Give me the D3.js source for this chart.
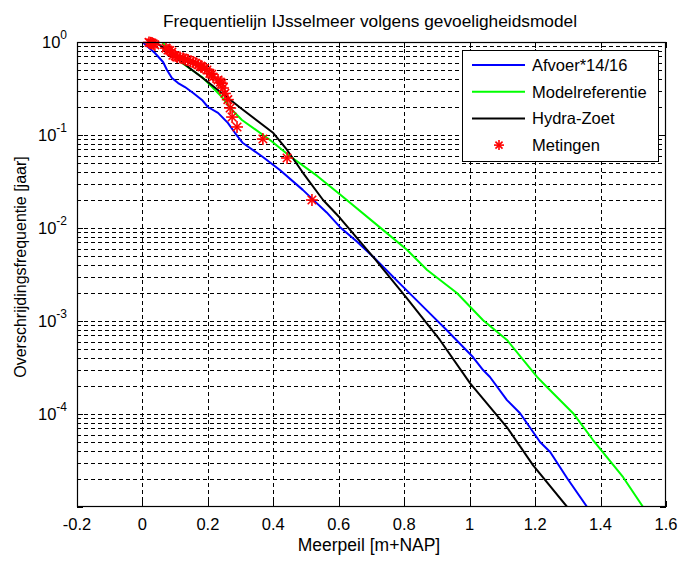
<!DOCTYPE html>
<html>
<head>
<meta charset="utf-8">
<script src="https://cdn.jsdelivr.net/npm/d3@7"></script>
<style>
html,body{margin:0;padding:0;background:#fff;}
svg{display:block;font-family:"Liberation Sans",Arial,sans-serif;}
</style>
</head>
<body>
<svg id="chart" width="692" height="563"></svg>
<script>
// ---- data ----
const title = "Frequentielijn IJsselmeer volgens gevoeligheidsmodel";
const xLabel = "Meerpeil [m+NAP]";
const yLabel = "Overschrijdingsfrequentie [jaar]";
const xTicks = [-0.2, 0, 0.2, 0.4, 0.6, 0.8, 1, 1.2, 1.4, 1.6];
const yDecades = [0, -1, -2, -3, -4, -5];
const seriesNames = ["Afvoer*14/16", "Modelreferentie", "Hydra-Zoet", "Metingen"];
const seriesColors = ["#0000ff", "#00ff00", "#000000", "#ff0000"];

const afvoerX = [0.0, 0.038, 0.063, 0.075, 0.090, 0.109, 0.130, 0.155, 0.182, 0.200, 0.231, 0.261, 0.283, 0.307, 0.368, 0.420, 0.490, 0.518, 0.563, 0.604, 0.656, 0.705, 0.796, 0.879, 0.931, 1.010, 1.041, 1.062, 1.114, 1.154, 1.215, 1.246, 1.298, 1.359];
const afvoerY = [1, 0.762, 0.61, 0.50, 0.41, 0.362, 0.328, 0.283, 0.238, 0.20, 0.173, 0.135, 0.105, 0.082, 0.058, 0.042, 0.0257, 0.0207, 0.0147, 0.0102, 0.0071, 0.0049, 0.00234, 0.0012, 0.00079, 0.00041, 0.000297, 0.00025, 0.000141, 0.000102, 5.0e-5, 3.9e-5, 2.04e-5, 1.0e-5];

const modelX = [0.06, 0.093, 0.121, 0.151, 0.182, 0.213, 0.243, 0.274, 0.304, 0.39, 0.45, 0.534, 0.604, 0.735, 0.809, 0.870, 0.961, 1.041, 1.114, 1.206, 1.236, 1.316, 1.377, 1.469, 1.530];
const modelY = [1, 0.762, 0.594, 0.50, 0.42, 0.328, 0.256, 0.186, 0.145, 0.0883, 0.0595, 0.0363, 0.0229, 0.00955, 0.0058, 0.00353, 0.002, 0.00102, 0.000625, 0.000251, 0.000195, 0.000102, 5.25e-5, 2.09e-5, 1.0e-5];

const hydraX = [0.04, 0.12, 0.2, 0.3, 0.4, 0.442, 0.491, 0.552, 0.604, 0.705, 0.809, 0.909, 1.001, 1.114, 1.194, 1.298];
const hydraY = [1, 0.61, 0.372, 0.195, 0.105, 0.069, 0.039, 0.02, 0.0128, 0.00488, 0.00174, 0.000625, 0.000215, 7.2e-5, 2.8e-5, 1.0e-5];

const metingenX = [0.02, 0.025, 0.029, 0.033, 0.038, 0.072, 0.078, 0.084, 0.09, 0.093, 0.1, 0.106, 0.115, 0.124, 0.13, 0.139, 0.147, 0.155, 0.163, 0.170, 0.178, 0.182, 0.19, 0.197, 0.206, 0.212, 0.216, 0.231, 0.238, 0.243, 0.246, 0.252, 0.261, 0.268, 0.274, 0.289, 0.368, 0.442, 0.518];
const metingenY = [0.99, 0.98, 0.975, 0.955, 0.93, 0.86, 0.82, 0.81, 0.78, 0.72, 0.71, 0.69, 0.68, 0.67, 0.65, 0.64, 0.62, 0.61, 0.59, 0.57, 0.55, 0.54, 0.52, 0.50, 0.46, 0.45, 0.42, 0.39, 0.37, 0.36, 0.32, 0.28, 0.24, 0.195, 0.156, 0.122, 0.0905, 0.0566, 0.02];

// ---- layout ----
const L = 77, R = 666, T = 42, B = 507;
const svg = d3.select("#chart");
const x = d3.scaleLinear().domain([-0.2, 1.6]).range([L, R]);
const y = d3.scaleLog().domain([1e-5, 1]).range([B, T]);

const FS = 16.5;

// grid
const grid = svg.append("g").attr("stroke", "#000").attr("stroke-width", 1)
  .attr("stroke-dasharray", "4,3").attr("shape-rendering", "crispEdges");
xTicks.slice(1, -1).forEach(v => {
  const px = Math.round(x(v)) + 0.5;
  grid.append("line").attr("x1", px).attr("x2", px).attr("y1", T).attr("y2", B);
});
const minorVals = [];
yDecades.slice(0, -1).forEach(d => {
  for (let k = 1; k <= 9; k++) minorVals.push(k * Math.pow(10, d - 1));
});
minorVals.forEach(v => {
  if (v >= 1 || v <= 1e-5) return;
  const py = Math.round(y(v)) + 0.5;
  grid.append("line").attr("x1", L).attr("x2", R).attr("y1", py).attr("y2", py);
});

// clip
svg.append("clipPath").attr("id", "clip").append("rect")
  .attr("x", L).attr("y", T).attr("width", R - L).attr("height", B - T);

const line = d3.line().x(d => x(d[0])).y(d => y(d[1]));
const plot = svg.append("g").attr("clip-path", "url(#clip)");
const curves = [[afvoerX, afvoerY], [modelX, modelY], [hydraX, hydraY]];
curves.forEach((c, i) => {
  plot.append("path").datum(d3.zip(c[0], c[1]))
    .attr("d", line).attr("fill", "none")
    .attr("stroke", seriesColors[i]).attr("stroke-width", 2)
    .attr("stroke-linejoin", "round");
});

function star(g, cx, cy, r) {
  const s = g.append("g").attr("transform", `translate(${cx},${cy})`)
    .attr("stroke", seriesColors[3]).attr("stroke-width", 1.6);
  const d = r * Math.SQRT1_2;
  s.append("line").attr("x1", -r).attr("x2", r).attr("y1", 0).attr("y2", 0);
  s.append("line").attr("x1", 0).attr("x2", 0).attr("y1", -r).attr("y2", r);
  s.append("line").attr("x1", -d).attr("x2", d).attr("y1", -d).attr("y2", d);
  s.append("line").attr("x1", -d).attr("x2", d).attr("y1", d).attr("y2", -d);
}
const starG = svg.append("g");
d3.zip(metingenX, metingenY).forEach(p => star(starG, x(p[0]), y(p[1]), 6));

// axes box
svg.append("rect").attr("x", L + 0.5).attr("y", T + 0.5).attr("width", R - L - 1).attr("height", B - T - 1)
  .attr("fill", "none").attr("stroke", "#000").attr("stroke-width", 1.2);

// tick marks
const tk = svg.append("g").attr("stroke", "#000").attr("stroke-width", 1).attr("shape-rendering", "crispEdges");
xTicks.forEach(v => {
  const px = Math.round(x(v)) + 0.5;
  tk.append("line").attr("x1", px).attr("x2", px).attr("y1", B).attr("y2", B - 6);
  tk.append("line").attr("x1", px).attr("x2", px).attr("y1", T).attr("y2", T + 6);
});
yDecades.forEach(d => {
  const py = Math.round(y(Math.pow(10, d))) + 0.5;
  tk.append("line").attr("x1", L).attr("x2", L + 6).attr("y1", py).attr("y2", py);
  tk.append("line").attr("x1", R).attr("x2", R - 6).attr("y1", py).attr("y2", py);
});

// x tick labels
svg.append("g").selectAll("text").data(xTicks).join("text")
  .attr("x", d => x(d)).attr("y", B + 23).attr("text-anchor", "middle")
  .attr("font-size", FS).attr("fill", "#000")
  .text(d => String(d));

// y tick labels (10^n) except bottom
yDecades.slice(0, -1).forEach(d => {
  const t = svg.append("text").attr("x", 67).attr("y", y(Math.pow(10, d)) + 6)
    .attr("text-anchor", "end").attr("font-size", FS).attr("fill", "#000");
  t.append("tspan").text("10");
  t.append("tspan").attr("dy", -9).attr("font-size", 12).text(String(d));
});

// title & labels
svg.append("text").attr("x", 370).attr("y", 27).attr("text-anchor", "middle")
  .attr("font-size", 17.3).text(title);
svg.append("text").attr("x", 369).attr("y", 551).attr("text-anchor", "middle")
  .attr("font-size", 17.5).text(xLabel);
svg.append("text").attr("transform", "translate(26,267) rotate(-90)").attr("text-anchor", "middle")
  .attr("font-size", 16).text(yLabel);

// legend
const lg = svg.append("g");
lg.append("rect").attr("x", 462.5).attr("y", 50.5).attr("width", 196).attr("height", 111)
  .attr("fill", "#fff").attr("stroke", "#000").attr("stroke-width", 1);
seriesNames.forEach((name, i) => {
  const cy = 65 + i * 26.7;
  if (i < 3) {
    lg.append("line").attr("x1", 472).attr("x2", 525).attr("y1", cy).attr("y2", cy)
      .attr("stroke", seriesColors[i]).attr("stroke-width", 2);
  } else {
    star(lg, 499, cy, 5);
  }
  lg.append("text").attr("x", 532).attr("y", cy + 6).attr("font-size", FS).text(name);
});
</script>
</body>
</html>
